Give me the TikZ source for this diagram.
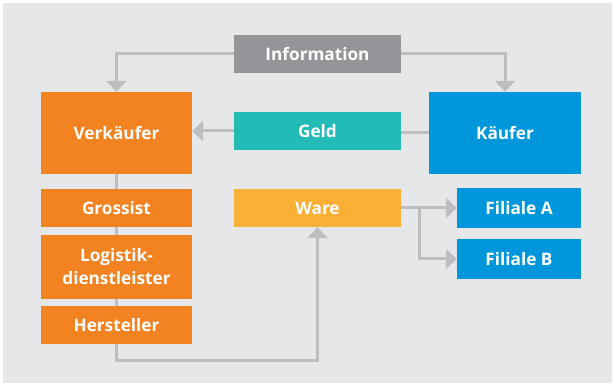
\documentclass[tikz,border=0pt]{standalone}
\usepackage{fontspec}
\setmainfont{Open Sans}
\usetikzlibrary{arrows.meta}
\definecolor{canvas}{RGB}{230,231,232}
\definecolor{infogray}{RGB}{147,149,152}
\definecolor{flowgray}{RGB}{188,190,192}
\definecolor{sellorange}{RGB}{243,130,33}
\definecolor{moneyteal}{RGB}{34,187,182}
\definecolor{buyblue}{RGB}{0,150,219}
\definecolor{goodsyellow}{RGB}{251,175,52}
\begin{document}
\begin{tikzpicture}[x=1pt,y=-1pt,
  box/.style={draw=none, inner sep=0pt, text=white, align=center,
    font=\fontsize{17.2}{23}\selectfont\bfseries},
  flow/.style={draw=flowgray, line width=3pt},
  tip/.style={-{Triangle[width=20pt,length=11pt]}}]
\useasboundingbox (0,0) rectangle (614,385);
\fill[canvas] (3,3) rectangle (612,383);
% top row
\node[box, fill=infogray, minimum width=167pt, minimum height=38pt] (info) at (317.5,54){Information};
\node[box, fill=sellorange, minimum width=151pt, minimum height=82pt] (verk) at (116.5,133){Verkäufer};
\node[box, fill=moneyteal, minimum width=167pt, minimum height=38pt] (geld) at (317.5,131){Geld};
\node[box, fill=buyblue, minimum width=152pt, minimum height=82pt] (kauf) at (505,133){Käufer};
% seller chain
\node[box, fill=sellorange, minimum width=151pt, minimum height=38pt] (gross) at (116.5,208){Grossist};
\node[box, fill=sellorange, minimum width=151pt, minimum height=64pt] (logi) at (116.5,267){Logistik-\\dienstleister};
\node[box, fill=sellorange, minimum width=151pt, minimum height=38pt] (herst) at (116.5,325){Hersteller};
% goods and branches
\node[box, fill=goodsyellow, minimum width=167pt, minimum height=38pt] (ware) at (317.5,208){Ware};
\node[box, fill=buyblue, minimum width=124pt, minimum height=40pt] (filA) at (519,208){Filiale A};
\node[box, fill=buyblue, minimum width=124pt, minimum height=40pt] (filB) at (519,259){Filiale B};
\coordinate (turn) at (116.5,360);
\coordinate (split) at (419,208);
% connectors
\draw[flow, tip] (info.west) -| (verk.north);
\draw[flow, tip] (info.east) -| (kauf.north);
\draw[flow] (kauf.west) -- (kauf.west -| geld.east);
\draw[flow, tip] (geld.west) -- (geld.west -| verk.east);
\draw[flow] (verk) -- (gross);
\draw[flow] (gross) -- (logi);
\draw[flow] (logi) -- (herst);
\draw[flow, tip] (herst.south) -- (turn) -| (ware.south);
\draw[flow, tip] (ware.east) -- (filA.west);
\draw[flow, tip] (split) |- (filB.west);
\end{tikzpicture}
\end{document}
